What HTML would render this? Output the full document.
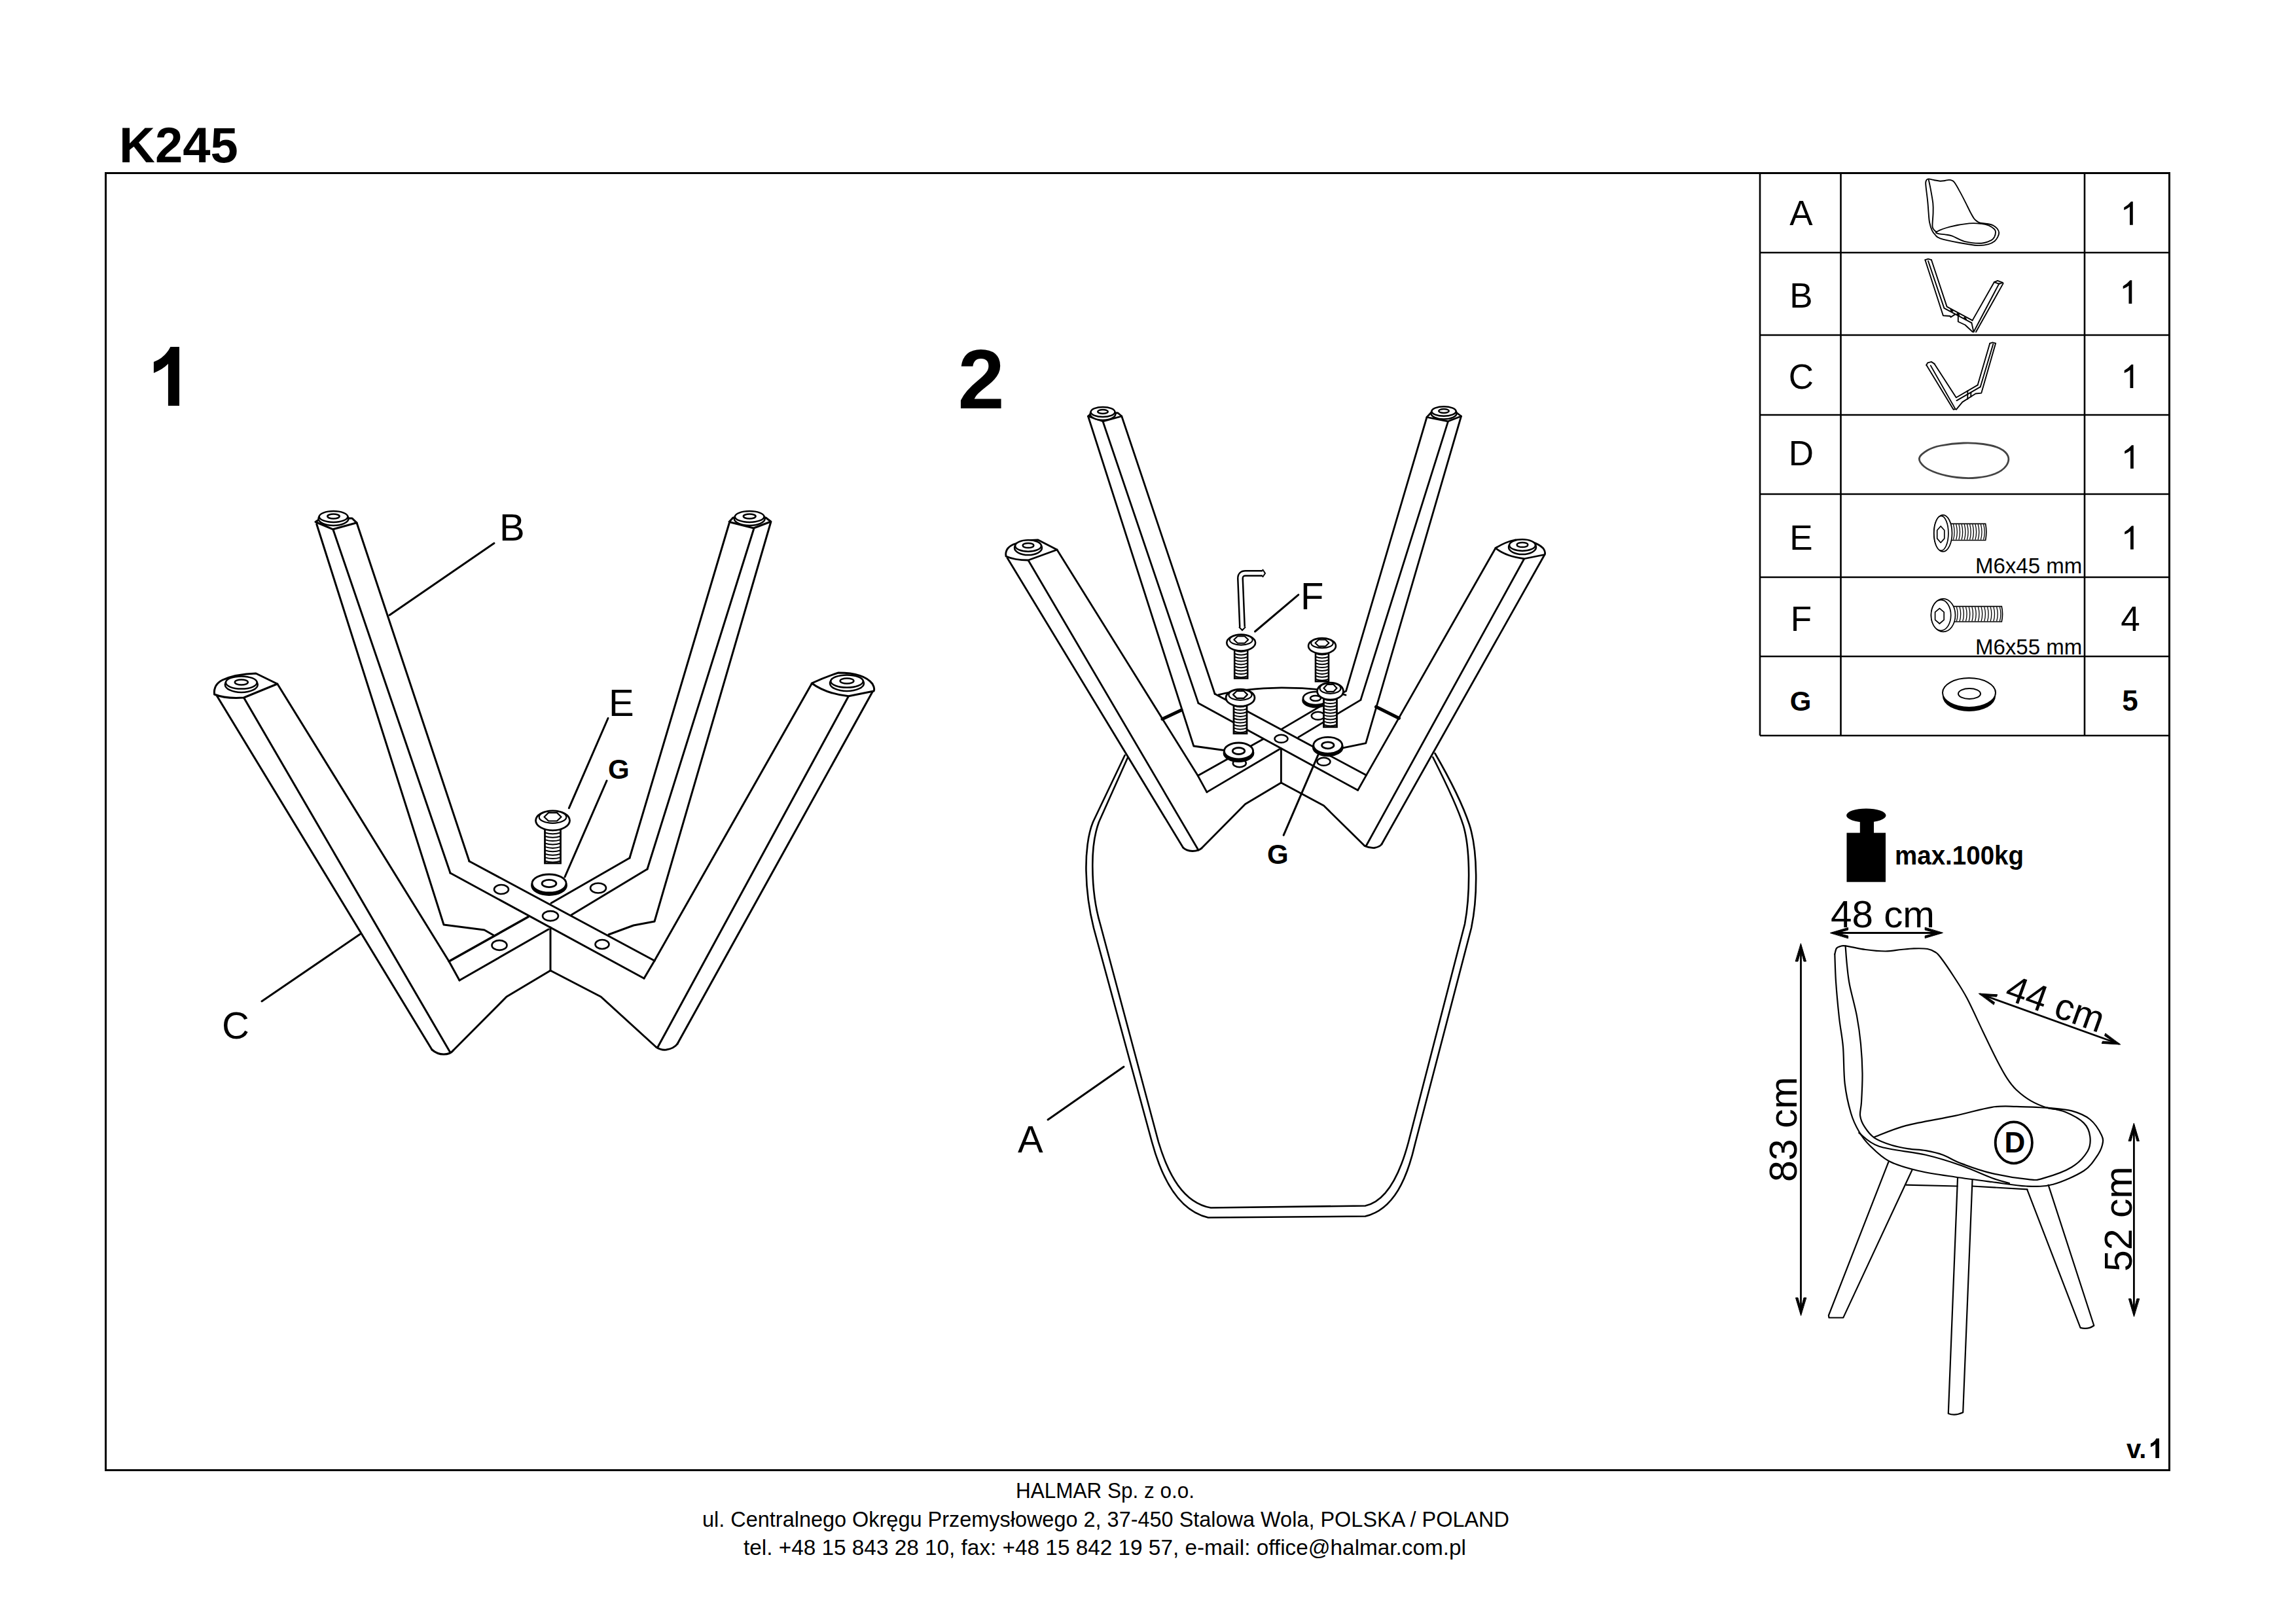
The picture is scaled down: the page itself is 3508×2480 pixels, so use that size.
<!DOCTYPE html><html><head><meta charset="utf-8"><style>html,body{margin:0;padding:0;background:#fff;} svg{display:block;}</style></head><body>
<svg width="3508" height="2480" viewBox="0 0 3508 2480">
<rect x="0" y="0" width="3508" height="2480" fill="#fff"/>
<text x="182" y="248" font-family="'Liberation Sans', sans-serif" font-size="76" font-weight="bold" text-anchor="start" >K245</text>
<rect x="161.5" y="264.5" width="3153" height="1982" fill="none" stroke="#000" stroke-width="3"/>
<text x="3249" y="2228" font-family="'Liberation Sans', sans-serif" font-size="40" font-weight="bold" text-anchor="start" >v.</text>
<path d="M3294.46,2198.00 L3299.00,2198.00 L3299.00,2228.00 L3293.29,2228.00 L3293.29,2206.58 Q3291.22,2209.08 3285.95,2211.31 L3285.95,2205.71 Q3291.78,2203.49 3294.46,2198.00 Z" fill="#000"/>
<line x1="2689" y1="264.5" x2="2689" y2="1124" stroke="#000" stroke-width="2.6"/>
<line x1="2812.5" y1="264.5" x2="2812.5" y2="1124" stroke="#000" stroke-width="2.6"/>
<line x1="3185" y1="264.5" x2="3185" y2="1124" stroke="#000" stroke-width="2.6"/>
<line x1="2689" y1="386" x2="3314.5" y2="386" stroke="#000" stroke-width="2.6"/>
<line x1="2689" y1="512" x2="3314.5" y2="512" stroke="#000" stroke-width="2.6"/>
<line x1="2689" y1="634" x2="3314.5" y2="634" stroke="#000" stroke-width="2.6"/>
<line x1="2689" y1="755" x2="3314.5" y2="755" stroke="#000" stroke-width="2.6"/>
<line x1="2689" y1="882" x2="3314.5" y2="882" stroke="#000" stroke-width="2.6"/>
<line x1="2689" y1="1003" x2="3314.5" y2="1003" stroke="#000" stroke-width="2.6"/>
<line x1="2689" y1="1124" x2="3314.5" y2="1124" stroke="#000" stroke-width="2.6"/>
<text x="2752" y="344" font-family="'Liberation Sans', sans-serif" font-size="53" font-weight="normal" text-anchor="middle" >A</text>
<text x="2752" y="470" font-family="'Liberation Sans', sans-serif" font-size="53" font-weight="normal" text-anchor="middle" >B</text>
<text x="2752" y="593.5" font-family="'Liberation Sans', sans-serif" font-size="53" font-weight="normal" text-anchor="middle" >C</text>
<text x="2752" y="711" font-family="'Liberation Sans', sans-serif" font-size="53" font-weight="normal" text-anchor="middle" >D</text>
<text x="2752" y="839.5" font-family="'Liberation Sans', sans-serif" font-size="53" font-weight="normal" text-anchor="middle" >E</text>
<text x="2752" y="964" font-family="'Liberation Sans', sans-serif" font-size="53" font-weight="normal" text-anchor="middle" >F</text>
<text x="2751" y="1085.5" font-family="'Liberation Sans', sans-serif" font-size="42" font-weight="bold" text-anchor="middle" >G</text>
<path d="M3256.0,307.9 L3258.8,307.9 L3258.8,343.8 L3254.0,343.8 L3254.0,316.1 Q3250.0,319.4 3245.2,320.9 L3245.2,317.0 Q3251.5,313.4 3256.0,307.9 Z" fill="#000"/>
<path d="M3254.5,428.2 L3257.3,428.2 L3257.3,464.1 L3252.5,464.1 L3252.5,436.4 Q3248.5,439.7 3243.7,441.2 L3243.7,437.3 Q3250.0,433.7 3254.5,428.2 Z" fill="#000"/>
<path d="M3256.5,557.0 L3259.3,557.0 L3259.3,592.9 L3254.5,592.9 L3254.5,565.2 Q3250.5,568.5 3245.7,570.0 L3245.7,566.1 Q3252.0,562.5 3256.5,557.0 Z" fill="#000"/>
<path d="M3257.0,680.2 L3259.8,680.2 L3259.8,716.1 L3255.0,716.1 L3255.0,688.4 Q3251.0,691.7 3246.2,693.2 L3246.2,689.3 Q3252.5,685.7 3257.0,680.2 Z" fill="#000"/>
<path d="M3257.0,803.6 L3259.8,803.6 L3259.8,839.5 L3255.0,839.5 L3255.0,811.8 Q3251.0,815.1 3246.2,816.6 L3246.2,812.7 Q3252.5,809.1 3257.0,803.6 Z" fill="#000"/>
<text x="3255" y="964" font-family="'Liberation Sans', sans-serif" font-size="53" font-weight="normal" text-anchor="middle" >4</text>
<text x="3254.5" y="1085.5" font-family="'Liberation Sans', sans-serif" font-size="44" font-weight="bold" text-anchor="middle" >5</text>
<text x="3018" y="876" font-family="'Liberation Sans', sans-serif" font-size="33" font-weight="normal" text-anchor="start" >M6x45 mm</text>
<text x="3018" y="999.5" font-family="'Liberation Sans', sans-serif" font-size="33" font-weight="normal" text-anchor="start" >M6x55 mm</text>
<path d="M260.4,530 L274,530 L274,619.9 L256.9,619.9 L256.9,555.7 Q250.7,563.2 234.9,569.9 L234.9,553.1 Q252.35,546.45 260.4,530 Z" fill="#000"/>
<path d="M330.0,1061.0 L660.0,1604.0" fill="none" stroke="#000" stroke-width="3" stroke-linejoin="round" stroke-linecap="round" />
<path d="M660,1604 Q668,1611 678,1611 Q688,1611 692.5,1605" fill="none" stroke="#000" stroke-width="3" stroke-linejoin="round" stroke-linecap="round" />
<path d="M372.5,1066.0 L687.5,1607.5" fill="none" stroke="#000" stroke-width="3" stroke-linejoin="round" stroke-linecap="round" />
<path d="M423.8,1045.0 L686.0,1469.0 L702.0,1498.0" fill="none" stroke="#000" stroke-width="3" stroke-linejoin="round" stroke-linecap="round" />
<path d="M483.8,801.0 L678.0,1413.0 L740.0,1421.0 L754.0,1429.0" fill="none" stroke="#000" stroke-width="3" stroke-linejoin="round" stroke-linecap="round" />
<path d="M508.8,808.8 L688.0,1334.0" fill="none" stroke="#000" stroke-width="3" stroke-linejoin="round" stroke-linecap="round" />
<path d="M545.0,798.8 L717.0,1316.0" fill="none" stroke="#000" stroke-width="3" stroke-linejoin="round" stroke-linecap="round" />
<path d="M717.0,1316.0 L1000.0,1468.0" fill="none" stroke="#000" stroke-width="3" stroke-linejoin="round" stroke-linecap="round" />
<path d="M688.0,1334.0 L984.0,1495.0" fill="none" stroke="#000" stroke-width="3" stroke-linejoin="round" stroke-linecap="round" />
<path d="M1000.0,1468.0 L984.0,1495.0" fill="none" stroke="#000" stroke-width="3" stroke-linejoin="round" stroke-linecap="round" />
<path d="M962.0,1311.0 L842.0,1380.0" fill="none" stroke="#000" stroke-width="3" stroke-linejoin="round" stroke-linecap="round" />
<path d="M989.0,1328.0 L873.0,1398.0" fill="none" stroke="#000" stroke-width="3" stroke-linejoin="round" stroke-linecap="round" />
<path d="M807.0,1401.0 L686.0,1469.0" fill="none" stroke="#000" stroke-width="3.5" stroke-linejoin="round" stroke-linecap="round" />
<path d="M838.0,1420.0 L702.0,1498.0" fill="none" stroke="#000" stroke-width="3" stroke-linejoin="round" stroke-linecap="round" />
<path d="M841.0,1417.0 L841.0,1483.0" fill="none" stroke="#000" stroke-width="3" stroke-linejoin="round" stroke-linecap="round" />
<path d="M841.0,1483.0 L774.0,1523.0 L692.5,1605.0" fill="none" stroke="#000" stroke-width="3" stroke-linejoin="round" stroke-linecap="round" />
<path d="M841.0,1483.0 L918.0,1523.0 L1002.5,1600.0" fill="none" stroke="#000" stroke-width="3" stroke-linejoin="round" stroke-linecap="round" />
<path d="M1240.0,1045.0 L1000.0,1468.0" fill="none" stroke="#000" stroke-width="3" stroke-linejoin="round" stroke-linecap="round" />
<path d="M1296.5,1063.8 L1005.0,1600.0" fill="none" stroke="#000" stroke-width="3" stroke-linejoin="round" stroke-linecap="round" />
<path d="M1332.8,1057.5 L1035.0,1595.0" fill="none" stroke="#000" stroke-width="3" stroke-linejoin="round" stroke-linecap="round" />
<path d="M1002.5,1600 Q1010,1605 1018,1604 Q1030,1602 1035,1595" fill="none" stroke="#000" stroke-width="3" stroke-linejoin="round" stroke-linecap="round" />
<path d="M1114.0,800.0 L962.0,1311.0" fill="none" stroke="#000" stroke-width="3" stroke-linejoin="round" stroke-linecap="round" />
<path d="M1151.5,808.8 L989.0,1328.0" fill="none" stroke="#000" stroke-width="3" stroke-linejoin="round" stroke-linecap="round" />
<path d="M1177.8,797.5 L1000.0,1408.0 L968.0,1414.0 L930.0,1428.0" fill="none" stroke="#000" stroke-width="3" stroke-linejoin="round" stroke-linecap="round" />
<path d="M482.0,797.5 L508.8,808.8 L545.0,798.8 L538.0,792.0 L490.0,792.0 Z" fill="#fff" stroke="#000" stroke-width="3" stroke-linejoin="round" stroke-linecap="round" />
<ellipse cx="509.5" cy="792.5" rx="23.0" ry="10.5" fill="#fff" stroke="#000" stroke-width="2.5" />
<ellipse cx="509.5" cy="789.5" rx="21.8" ry="8.4" fill="#fff" stroke="#000" stroke-width="2.5" />
<ellipse cx="509.5" cy="789.0" rx="9.2" ry="3.5" fill="#fff" stroke="#000" stroke-width="2.5" />
<path d="M1114.0,797.5 L1151.5,807.0 L1177.8,797.0 L1170.0,791.0 L1120.0,791.0 Z" fill="#fff" stroke="#000" stroke-width="3" stroke-linejoin="round" stroke-linecap="round" />
<ellipse cx="1145.2" cy="792.5" rx="23.5" ry="10.5" fill="#fff" stroke="#000" stroke-width="2.5" />
<ellipse cx="1145.2" cy="789.5" rx="22.3" ry="8.4" fill="#fff" stroke="#000" stroke-width="2.5" />
<ellipse cx="1145.2" cy="789.0" rx="9.4" ry="3.5" fill="#fff" stroke="#000" stroke-width="2.5" />
<path d="M327.5,1061 Q326,1046 340,1039 Q360,1030 391,1029 L423.75,1045 L372.5,1066 Q345,1068 327.5,1061 Z" fill="#fff" stroke="#000" stroke-width="3" stroke-linejoin="round" stroke-linecap="round" />
<ellipse cx="368.8" cy="1046.0" rx="25.0" ry="12.0" fill="#fff" stroke="#000" stroke-width="2.5" />
<ellipse cx="368.8" cy="1043.0" rx="23.8" ry="9.6" fill="#fff" stroke="#000" stroke-width="2.5" />
<ellipse cx="368.8" cy="1042.5" rx="10.0" ry="4.0" fill="#fff" stroke="#000" stroke-width="2.5" />
<path d="M1240.25,1044 Q1262,1034 1281,1028 Q1320,1028 1333,1045 Q1337,1052 1335,1056 L1296.5,1063.75 Q1262,1060 1240.25,1044 Z" fill="#fff" stroke="#000" stroke-width="3" stroke-linejoin="round" stroke-linecap="round" />
<ellipse cx="1294.0" cy="1044.0" rx="26.0" ry="12.0" fill="#fff" stroke="#000" stroke-width="2.5" />
<ellipse cx="1294.0" cy="1041.0" rx="24.7" ry="9.6" fill="#fff" stroke="#000" stroke-width="2.5" />
<ellipse cx="1294.0" cy="1040.5" rx="10.4" ry="4.0" fill="#fff" stroke="#000" stroke-width="2.5" />
<ellipse cx="766.0" cy="1359.0" rx="11.0" ry="7.0" fill="#fff" stroke="#000" stroke-width="2.6" />
<ellipse cx="841.0" cy="1399.6" rx="12.0" ry="7.5" fill="#fff" stroke="#000" stroke-width="2.6" />
<ellipse cx="914.0" cy="1357.0" rx="12.0" ry="7.5" fill="#fff" stroke="#000" stroke-width="2.6" />
<ellipse cx="763.0" cy="1444.4" rx="11.5" ry="7.5" fill="#fff" stroke="#000" stroke-width="2.6" />
<ellipse cx="920.0" cy="1443.0" rx="10.5" ry="7.0" fill="#fff" stroke="#000" stroke-width="2.6" />
<rect x="832.5" y="1259.0" width="24.0" height="60.0" fill="#fff" stroke="#000" stroke-width="2.8"/>
<path d="M832.5,1261.5 Q844.5,1265.5 856.5,1261.5" fill="none" stroke="#000" stroke-width="2"/>
<path d="M832.5,1266.9 Q844.5,1270.9 856.5,1266.9" fill="none" stroke="#000" stroke-width="2"/>
<path d="M832.5,1272.3 Q844.5,1276.3 856.5,1272.3" fill="none" stroke="#000" stroke-width="2"/>
<path d="M832.5,1277.7 Q844.5,1281.7 856.5,1277.7" fill="none" stroke="#000" stroke-width="2"/>
<path d="M832.5,1283.1 Q844.5,1287.1 856.5,1283.1" fill="none" stroke="#000" stroke-width="2"/>
<path d="M832.5,1288.5 Q844.5,1292.5 856.5,1288.5" fill="none" stroke="#000" stroke-width="2"/>
<path d="M832.5,1293.9 Q844.5,1297.9 856.5,1293.9" fill="none" stroke="#000" stroke-width="2"/>
<path d="M832.5,1299.3 Q844.5,1303.3 856.5,1299.3" fill="none" stroke="#000" stroke-width="2"/>
<path d="M832.5,1304.7 Q844.5,1308.7 856.5,1304.7" fill="none" stroke="#000" stroke-width="2"/>
<path d="M832.5,1310.1 Q844.5,1314.1 856.5,1310.1" fill="none" stroke="#000" stroke-width="2"/>
<path d="M832.5,1315.5 Q844.5,1319.5 856.5,1315.5" fill="none" stroke="#000" stroke-width="2"/>
<ellipse cx="844.5" cy="1253.8" rx="26.0" ry="15.0" fill="#fff" stroke="#000" stroke-width="2.8" />
<ellipse cx="844.5" cy="1248.5" rx="20.8" ry="9.3" fill="#fff" stroke="#000" stroke-width="2.2399999999999998" />
<path d="M831.5,1248.2 L838.0,1241.9 L851.0,1241.9 L857.5,1248.2 L851.0,1254.5 L838.0,1254.5 Z" fill="#fff" stroke="#000" stroke-width="2.2399999999999998" stroke-linejoin="round" stroke-linecap="round" />
<ellipse cx="839.0" cy="1353.0" rx="26.0" ry="14.0" fill="#000" stroke="#000" stroke-width="3.8" />
<ellipse cx="839.0" cy="1350.0" rx="26.0" ry="14.0" fill="#fff" stroke="#000" stroke-width="2.8" />
<ellipse cx="839.0" cy="1350.0" rx="10.9" ry="5.6" fill="#fff" stroke="#000" stroke-width="2.8" />
<path d="M595.0,940.0 L755.0,830.0" fill="none" stroke="#000" stroke-width="3" stroke-linejoin="round" stroke-linecap="round" />
<path d="M929.0,1097.5 L869.3,1234.8" fill="none" stroke="#000" stroke-width="3" stroke-linejoin="round" stroke-linecap="round" />
<path d="M927.0,1193.0 L863.0,1340.0" fill="none" stroke="#000" stroke-width="3" stroke-linejoin="round" stroke-linecap="round" />
<path d="M550.0,1427.5 L400.0,1530.0" fill="none" stroke="#000" stroke-width="3" stroke-linejoin="round" stroke-linecap="round" />
<text x="763" y="826" font-family="'Liberation Sans', sans-serif" font-size="58" font-weight="normal" text-anchor="start" >B</text>
<text x="930" y="1094" font-family="'Liberation Sans', sans-serif" font-size="58" font-weight="normal" text-anchor="start" >E</text>
<text x="929" y="1190" font-family="'Liberation Sans', sans-serif" font-size="42" font-weight="bold" text-anchor="start" >G</text>
<text x="339" y="1587" font-family="'Liberation Sans', sans-serif" font-size="58" font-weight="normal" text-anchor="start" >C</text>
<text x="1463.5" y="624" font-family="'Liberation Sans', sans-serif" font-size="128" font-weight="bold" text-anchor="start" >2</text>
<path d="M1718.6,1154 L1670,1256 C1662,1275 1659,1305 1659.5,1331 C1660,1360 1664,1390 1671,1418 L1760,1745 C1775,1800 1800,1850 1846,1860.5 L2086,1858.5 C2130,1848 2150,1800 2162,1748 L2248,1418 C2258,1370 2258,1300 2245,1260 C2235,1230 2215,1190 2192.4,1151" fill="none" stroke="#000" stroke-width="2.6" stroke-linejoin="round" stroke-linecap="round" />
<path d="M1723.3,1157 L1679,1256 C1672,1275 1669,1300 1669.3,1325 C1669.5,1355 1673,1385 1681,1412 L1770,1745 C1785,1795 1808,1838 1850,1845.5 L2086,1842.5 C2120,1835 2140,1790 2152,1745 L2238,1412 C2246,1370 2247,1300 2236,1262 C2226,1230 2206,1190 2189.3,1157" fill="none" stroke="#000" stroke-width="2.6" stroke-linejoin="round" stroke-linecap="round" />
<path d="M1776,1098.75 L1805,1085" fill="none" stroke="#000" stroke-width="5" stroke-linejoin="round" stroke-linecap="round" />
<path d="M2102.5,1080 L2137.5,1097.5" fill="none" stroke="#000" stroke-width="5" stroke-linejoin="round" stroke-linecap="round" />
<path d="M1861.9,1061.7 Q1900,1052 1958.2,1050.9 Q2020,1051 2056,1062" fill="none" stroke="#000" stroke-width="2.8" stroke-linejoin="round" stroke-linecap="round" />
<path d="M1601.0,1711.0 L1717.0,1630.0" fill="none" stroke="#000" stroke-width="3" stroke-linejoin="round" stroke-linecap="round" />
<text x="1555" y="1761" font-family="'Liberation Sans', sans-serif" font-size="58" font-weight="normal" text-anchor="start" >A</text>
<path d="M1539.0,852.5 L1807.5,1295.0" fill="none" stroke="#000" stroke-width="2.8" stroke-linejoin="round" stroke-linecap="round" />
<path d="M1807.5,1295 Q1812,1300 1822,1300.5 Q1832,1300 1836,1296" fill="none" stroke="#000" stroke-width="2.8" stroke-linejoin="round" stroke-linecap="round" />
<path d="M1571.0,856.0 L1831.0,1299.0" fill="none" stroke="#000" stroke-width="2.8" stroke-linejoin="round" stroke-linecap="round" />
<path d="M1615.0,840.0 L1830.2,1185.3 L1843.9,1210.4" fill="none" stroke="#000" stroke-width="2.8" stroke-linejoin="round" stroke-linecap="round" />
<path d="M1662.5,636.0 L1823.8,1140.0 L1870.5,1146.5" fill="none" stroke="#000" stroke-width="2.8" stroke-linejoin="round" stroke-linecap="round" />
<path d="M1685.0,643.8 L1831.0,1074.6" fill="none" stroke="#000" stroke-width="2.8" stroke-linejoin="round" stroke-linecap="round" />
<path d="M1713.8,636.0 L1856.1,1060.2" fill="none" stroke="#000" stroke-width="2.8" stroke-linejoin="round" stroke-linecap="round" />
<path d="M2180.0,637.5 L2056.6,1055.9" fill="none" stroke="#000" stroke-width="2.8" stroke-linejoin="round" stroke-linecap="round" />
<path d="M2212.5,643.8 L2078.9,1069.6" fill="none" stroke="#000" stroke-width="2.8" stroke-linejoin="round" stroke-linecap="round" />
<path d="M2232.5,636.0 L2086.8,1135.7 L2051.6,1142.9" fill="none" stroke="#000" stroke-width="2.8" stroke-linejoin="round" stroke-linecap="round" />
<path d="M2285.0,837.5 L2087.5,1184.6 L2074.6,1207.5" fill="none" stroke="#000" stroke-width="2.8" stroke-linejoin="round" stroke-linecap="round" />
<path d="M2328.8,853.8 L2087.0,1293.0" fill="none" stroke="#000" stroke-width="2.8" stroke-linejoin="round" stroke-linecap="round" />
<path d="M2360.0,847.5 L2111.0,1290.0" fill="none" stroke="#000" stroke-width="2.8" stroke-linejoin="round" stroke-linecap="round" />
<path d="M2085,1292.5 Q2092,1296 2100,1295.5 Q2108,1294 2111,1290" fill="none" stroke="#000" stroke-width="2.8" stroke-linejoin="round" stroke-linecap="round" />
<path d="M1856.1,1060.2 L2087.5,1184.6" fill="none" stroke="#000" stroke-width="2.8" stroke-linejoin="round" stroke-linecap="round" />
<path d="M1831.0,1074.6 L2074.6,1207.5" fill="none" stroke="#000" stroke-width="2.8" stroke-linejoin="round" stroke-linecap="round" />
<path d="M2056.6,1055.9 L1958.1,1114.1" fill="none" stroke="#000" stroke-width="2.8" stroke-linejoin="round" stroke-linecap="round" />
<path d="M2078.9,1069.6 L1984.0,1126.4" fill="none" stroke="#000" stroke-width="2.8" stroke-linejoin="round" stroke-linecap="round" />
<path d="M1930.1,1129.2 L1830.2,1185.3" fill="none" stroke="#000" stroke-width="2.8" stroke-linejoin="round" stroke-linecap="round" />
<path d="M1954.6,1145.0 L1843.9,1210.4" fill="none" stroke="#000" stroke-width="2.8" stroke-linejoin="round" stroke-linecap="round" />
<path d="M1957.4,1143.6 L1957.4,1196.0" fill="none" stroke="#000" stroke-width="2.8" stroke-linejoin="round" stroke-linecap="round" />
<path d="M1957.4,1196.0 L1902.5,1228.8 L1836.0,1296.0" fill="none" stroke="#000" stroke-width="2.8" stroke-linejoin="round" stroke-linecap="round" />
<path d="M1957.4,1196.0 L2022.5,1231.0 L2085.0,1292.5" fill="none" stroke="#000" stroke-width="2.8" stroke-linejoin="round" stroke-linecap="round" />
<path d="M1662.5,636.0 L1685.0,643.8 L1713.8,636.0 L1708.0,631.0 L1668.0,631.0 Z" fill="#fff" stroke="#000" stroke-width="2.8" stroke-linejoin="round" stroke-linecap="round" />
<ellipse cx="1685.0" cy="632.5" rx="19.4" ry="9.5" fill="#fff" stroke="#000" stroke-width="2.5" />
<ellipse cx="1685.0" cy="629.5" rx="18.4" ry="7.6" fill="#fff" stroke="#000" stroke-width="2.5" />
<ellipse cx="1685.0" cy="629.0" rx="7.8" ry="3.1" fill="#fff" stroke="#000" stroke-width="2.5" />
<path d="M2180.0,637.5 L2212.5,643.8 L2232.5,636.0 L2226.0,631.0 L2186.0,631.0 Z" fill="#fff" stroke="#000" stroke-width="2.8" stroke-linejoin="round" stroke-linecap="round" />
<ellipse cx="2206.0" cy="631.5" rx="19.6" ry="9.0" fill="#fff" stroke="#000" stroke-width="2.5" />
<ellipse cx="2206.0" cy="628.5" rx="18.6" ry="7.2" fill="#fff" stroke="#000" stroke-width="2.5" />
<ellipse cx="2206.0" cy="628.0" rx="7.8" ry="3.0" fill="#fff" stroke="#000" stroke-width="2.5" />
<path d="M1537,850 Q1535,838 1548,832 Q1565,825 1586,825 L1615,840 L1571,856 Q1550,856 1537,850 Z" fill="#fff" stroke="#000" stroke-width="2.8" stroke-linejoin="round" stroke-linecap="round" />
<ellipse cx="1571.0" cy="837.0" rx="21.0" ry="11.0" fill="#fff" stroke="#000" stroke-width="2.5" />
<ellipse cx="1571.0" cy="834.0" rx="19.9" ry="8.8" fill="#fff" stroke="#000" stroke-width="2.5" />
<ellipse cx="1571.0" cy="833.5" rx="8.4" ry="3.6" fill="#fff" stroke="#000" stroke-width="2.5" />
<path d="M2285,837.5 Q2300,828 2315,825 Q2345,825 2358,838 Q2362,844 2360,847.5 L2328.75,853.75 Q2300,850 2285,837.5 Z" fill="#fff" stroke="#000" stroke-width="2.8" stroke-linejoin="round" stroke-linecap="round" />
<ellipse cx="2326.0" cy="836.0" rx="21.0" ry="11.0" fill="#fff" stroke="#000" stroke-width="2.5" />
<ellipse cx="2326.0" cy="833.0" rx="19.9" ry="8.8" fill="#fff" stroke="#000" stroke-width="2.5" />
<ellipse cx="2326.0" cy="832.5" rx="8.4" ry="3.6" fill="#fff" stroke="#000" stroke-width="2.5" />
<ellipse cx="1957.5" cy="1128.8" rx="10.0" ry="6.0" fill="#fff" stroke="#000" stroke-width="2.5" />
<ellipse cx="1893.8" cy="1166.2" rx="10.0" ry="6.0" fill="#fff" stroke="#000" stroke-width="2.5" />
<ellipse cx="2022.5" cy="1163.8" rx="10.0" ry="6.0" fill="#fff" stroke="#000" stroke-width="2.5" />
<ellipse cx="2013.8" cy="1093.8" rx="10.0" ry="6.0" fill="#fff" stroke="#000" stroke-width="2.5" />
<ellipse cx="2010.0" cy="1070.0" rx="19.0" ry="10.0" fill="#000" stroke="#000" stroke-width="3.6" />
<ellipse cx="2010.0" cy="1067.0" rx="19.0" ry="10.0" fill="#fff" stroke="#000" stroke-width="2.6" />
<ellipse cx="2010.0" cy="1067.0" rx="8.0" ry="4.0" fill="#fff" stroke="#000" stroke-width="2.6" />
<ellipse cx="1892.5" cy="1150.5" rx="22.0" ry="12.5" fill="#000" stroke="#000" stroke-width="3.8" />
<ellipse cx="1892.5" cy="1147.5" rx="22.0" ry="12.5" fill="#fff" stroke="#000" stroke-width="2.8" />
<ellipse cx="1892.5" cy="1147.5" rx="9.2" ry="5.0" fill="#fff" stroke="#000" stroke-width="2.8" />
<ellipse cx="2028.8" cy="1141.8" rx="22.0" ry="12.5" fill="#000" stroke="#000" stroke-width="3.8" />
<ellipse cx="2028.8" cy="1138.8" rx="22.0" ry="12.5" fill="#fff" stroke="#000" stroke-width="2.8" />
<ellipse cx="2028.8" cy="1138.8" rx="9.2" ry="5.0" fill="#fff" stroke="#000" stroke-width="2.8" />
<rect x="1886.2" y="986.5" width="20.0" height="50.0" fill="#fff" stroke="#000" stroke-width="2.6"/>
<path d="M1886.2,989.0 Q1896.2,993.0 1906.2,989.0" fill="none" stroke="#000" stroke-width="2"/>
<path d="M1886.2,993.9 Q1896.2,997.9 1906.2,993.9" fill="none" stroke="#000" stroke-width="2"/>
<path d="M1886.2,998.8 Q1896.2,1002.8 1906.2,998.8" fill="none" stroke="#000" stroke-width="2"/>
<path d="M1886.2,1003.7 Q1896.2,1007.7 1906.2,1003.7" fill="none" stroke="#000" stroke-width="2"/>
<path d="M1886.2,1008.6 Q1896.2,1012.6 1906.2,1008.6" fill="none" stroke="#000" stroke-width="2"/>
<path d="M1886.2,1013.4 Q1896.2,1017.4 1906.2,1013.4" fill="none" stroke="#000" stroke-width="2"/>
<path d="M1886.2,1018.3 Q1896.2,1022.3 1906.2,1018.3" fill="none" stroke="#000" stroke-width="2"/>
<path d="M1886.2,1023.2 Q1896.2,1027.2 1906.2,1023.2" fill="none" stroke="#000" stroke-width="2"/>
<path d="M1886.2,1028.1 Q1896.2,1032.1 1906.2,1028.1" fill="none" stroke="#000" stroke-width="2"/>
<path d="M1886.2,1033.0 Q1896.2,1037.0 1906.2,1033.0" fill="none" stroke="#000" stroke-width="2"/>
<ellipse cx="1896.2" cy="982.1" rx="21.9" ry="12.5" fill="#fff" stroke="#000" stroke-width="2.6" />
<ellipse cx="1896.2" cy="977.8" rx="17.5" ry="7.8" fill="#fff" stroke="#000" stroke-width="2.08" />
<path d="M1885.3,977.5 L1890.8,972.2 L1901.7,972.2 L1907.2,977.5 L1901.7,982.8 L1890.8,982.8 Z" fill="#fff" stroke="#000" stroke-width="2.08" stroke-linejoin="round" stroke-linecap="round" />
<rect x="2010.0" y="991.2" width="20.0" height="50.0" fill="#fff" stroke="#000" stroke-width="2.6"/>
<path d="M2010.0,993.7 Q2020.0,997.7 2030.0,993.7" fill="none" stroke="#000" stroke-width="2"/>
<path d="M2010.0,998.6 Q2020.0,1002.6 2030.0,998.6" fill="none" stroke="#000" stroke-width="2"/>
<path d="M2010.0,1003.5 Q2020.0,1007.5 2030.0,1003.5" fill="none" stroke="#000" stroke-width="2"/>
<path d="M2010.0,1008.4 Q2020.0,1012.4 2030.0,1008.4" fill="none" stroke="#000" stroke-width="2"/>
<path d="M2010.0,1013.3 Q2020.0,1017.3 2030.0,1013.3" fill="none" stroke="#000" stroke-width="2"/>
<path d="M2010.0,1018.1 Q2020.0,1022.1 2030.0,1018.1" fill="none" stroke="#000" stroke-width="2"/>
<path d="M2010.0,1023.0 Q2020.0,1027.0 2030.0,1023.0" fill="none" stroke="#000" stroke-width="2"/>
<path d="M2010.0,1027.9 Q2020.0,1031.9 2030.0,1027.9" fill="none" stroke="#000" stroke-width="2"/>
<path d="M2010.0,1032.8 Q2020.0,1036.8 2030.0,1032.8" fill="none" stroke="#000" stroke-width="2"/>
<path d="M2010.0,1037.7 Q2020.0,1041.7 2030.0,1037.7" fill="none" stroke="#000" stroke-width="2"/>
<ellipse cx="2020.0" cy="987.0" rx="21.0" ry="12.0" fill="#fff" stroke="#000" stroke-width="2.6" />
<ellipse cx="2020.0" cy="982.8" rx="16.8" ry="7.4" fill="#fff" stroke="#000" stroke-width="2.08" />
<path d="M2009.5,982.6 L2014.8,977.5 L2025.2,977.5 L2030.5,982.6 L2025.2,987.6 L2014.8,987.6 Z" fill="#fff" stroke="#000" stroke-width="2.08" stroke-linejoin="round" stroke-linecap="round" />
<rect x="1885.0" y="1070.8" width="20.0" height="50.0" fill="#fff" stroke="#000" stroke-width="2.8"/>
<path d="M1885.0,1073.3 Q1895.0,1077.3 1905.0,1073.3" fill="none" stroke="#000" stroke-width="2"/>
<path d="M1885.0,1078.2 Q1895.0,1082.2 1905.0,1078.2" fill="none" stroke="#000" stroke-width="2"/>
<path d="M1885.0,1083.1 Q1895.0,1087.1 1905.0,1083.1" fill="none" stroke="#000" stroke-width="2"/>
<path d="M1885.0,1088.0 Q1895.0,1092.0 1905.0,1088.0" fill="none" stroke="#000" stroke-width="2"/>
<path d="M1885.0,1092.9 Q1895.0,1096.9 1905.0,1092.9" fill="none" stroke="#000" stroke-width="2"/>
<path d="M1885.0,1097.7 Q1895.0,1101.7 1905.0,1097.7" fill="none" stroke="#000" stroke-width="2"/>
<path d="M1885.0,1102.6 Q1895.0,1106.6 1905.0,1102.6" fill="none" stroke="#000" stroke-width="2"/>
<path d="M1885.0,1107.5 Q1895.0,1111.5 1905.0,1107.5" fill="none" stroke="#000" stroke-width="2"/>
<path d="M1885.0,1112.4 Q1895.0,1116.4 1905.0,1112.4" fill="none" stroke="#000" stroke-width="2"/>
<path d="M1885.0,1117.3 Q1895.0,1121.3 1905.0,1117.3" fill="none" stroke="#000" stroke-width="2"/>
<ellipse cx="1895.0" cy="1066.2" rx="22.0" ry="13.0" fill="#fff" stroke="#000" stroke-width="2.8" />
<ellipse cx="1895.0" cy="1061.7" rx="17.6" ry="8.1" fill="#fff" stroke="#000" stroke-width="2.2399999999999998" />
<path d="M1884.0,1061.4 L1889.5,1056.0 L1900.5,1056.0 L1906.0,1061.4 L1900.5,1066.9 L1889.5,1066.9 Z" fill="#fff" stroke="#000" stroke-width="2.2399999999999998" stroke-linejoin="round" stroke-linecap="round" />
<rect x="2022.5" y="1060.8" width="20.0" height="50.0" fill="#fff" stroke="#000" stroke-width="2.8"/>
<path d="M2022.5,1063.3 Q2032.5,1067.3 2042.5,1063.3" fill="none" stroke="#000" stroke-width="2"/>
<path d="M2022.5,1068.2 Q2032.5,1072.2 2042.5,1068.2" fill="none" stroke="#000" stroke-width="2"/>
<path d="M2022.5,1073.1 Q2032.5,1077.1 2042.5,1073.1" fill="none" stroke="#000" stroke-width="2"/>
<path d="M2022.5,1078.0 Q2032.5,1082.0 2042.5,1078.0" fill="none" stroke="#000" stroke-width="2"/>
<path d="M2022.5,1082.9 Q2032.5,1086.9 2042.5,1082.9" fill="none" stroke="#000" stroke-width="2"/>
<path d="M2022.5,1087.7 Q2032.5,1091.7 2042.5,1087.7" fill="none" stroke="#000" stroke-width="2"/>
<path d="M2022.5,1092.6 Q2032.5,1096.6 2042.5,1092.6" fill="none" stroke="#000" stroke-width="2"/>
<path d="M2022.5,1097.5 Q2032.5,1101.5 2042.5,1097.5" fill="none" stroke="#000" stroke-width="2"/>
<path d="M2022.5,1102.4 Q2032.5,1106.4 2042.5,1102.4" fill="none" stroke="#000" stroke-width="2"/>
<path d="M2022.5,1107.3 Q2032.5,1111.3 2042.5,1107.3" fill="none" stroke="#000" stroke-width="2"/>
<ellipse cx="2032.5" cy="1056.2" rx="20.0" ry="13.0" fill="#fff" stroke="#000" stroke-width="2.8" />
<ellipse cx="2032.5" cy="1051.7" rx="16.0" ry="8.1" fill="#fff" stroke="#000" stroke-width="2.2399999999999998" />
<path d="M2022.5,1051.4 L2027.5,1046.0 L2037.5,1046.0 L2042.5,1051.4 L2037.5,1056.9 L2027.5,1056.9 Z" fill="#fff" stroke="#000" stroke-width="2.2399999999999998" stroke-linejoin="round" stroke-linecap="round" />
<path d="M1898,958 L1895,884 Q1895,876 1903,876 L1929,876" fill="none" stroke="#000" stroke-width="10"/>
<path d="M1898,958 L1895,884 Q1895,876 1903,876 L1929,876" fill="none" stroke="#fff" stroke-width="5"/>
<path d="M1893,958 L1898,963 L1903,958 M1929,870 L1933,876 L1929,882" fill="none" stroke="#000" stroke-width="2"/>
<path d="M1917.5,965.0 L1983.8,908.8" fill="none" stroke="#000" stroke-width="3" stroke-linejoin="round" stroke-linecap="round" />
<path d="M1961.2,1276.2 L2013.8,1153.8" fill="none" stroke="#000" stroke-width="3" stroke-linejoin="round" stroke-linecap="round" />
<text x="1987" y="931" font-family="'Liberation Sans', sans-serif" font-size="58" font-weight="normal" text-anchor="start" >F</text>
<text x="1936" y="1320" font-family="'Liberation Sans', sans-serif" font-size="42" font-weight="bold" text-anchor="start" >G</text>
<ellipse cx="2851.3" cy="1246" rx="30.2" ry="10.6" fill="#000"/>
<rect x="2841.8" y="1252" width="21.2" height="22" fill="#000"/>
<rect x="2821.5" y="1272.6" width="59.5" height="75.1" fill="#000"/>
<text x="2895" y="1320.6" font-family="'Liberation Sans', sans-serif" font-size="40" font-weight="bold" text-anchor="start" textLength="197" lengthAdjust="spacingAndGlyphs" >max.100kg</text>
<text x="2797" y="1417" font-family="'Liberation Sans', sans-serif" font-size="57" font-weight="normal" text-anchor="start" textLength="159" lengthAdjust="spacingAndGlyphs" >48 cm</text>
<path d="M2800.0,1425.5 L2965.0,1425.5" fill="none" stroke="#000" stroke-width="2.8" stroke-linejoin="round" stroke-linecap="round" />
<path d="M2796.6,1425.5 L2823.6,1417.5 L2823.6,1421.0 L2811.4,1424.2 L2811.4,1426.8 L2823.6,1430.0 L2823.6,1433.5 Z" fill="#000" stroke="#000" stroke-width="1" stroke-linejoin="round" stroke-linecap="round" />
<path d="M2968.2,1425.5 L2941.2,1433.5 L2941.2,1430.0 L2953.3,1426.8 L2953.3,1424.2 L2941.2,1421.0 L2941.2,1417.5 Z" fill="#000" stroke="#000" stroke-width="1" stroke-linejoin="round" stroke-linecap="round" />
<path d="M2751.5,1446.0 L2751.5,2006.0" fill="none" stroke="#000" stroke-width="2.8" stroke-linejoin="round" stroke-linecap="round" />
<path d="M2751.5,1442.0 L2759.5,1469.0 L2756.0,1469.0 L2752.8,1456.8 L2750.2,1456.8 L2747.0,1469.0 L2743.5,1469.0 Z" fill="#000" stroke="#000" stroke-width="1" stroke-linejoin="round" stroke-linecap="round" />
<path d="M2751.5,2010.0 L2743.5,1983.0 L2747.0,1983.0 L2750.2,1995.2 L2752.8,1995.2 L2756.0,1983.0 L2759.5,1983.0 Z" fill="#000" stroke="#000" stroke-width="1" stroke-linejoin="round" stroke-linecap="round" />
<text transform="translate(2744.5,1806) rotate(-90)" font-family="Liberation Sans, sans-serif" font-size="59">83 cm</text>
<path d="M3260.4,1720.0 L3260.4,2008.0" fill="none" stroke="#000" stroke-width="2.8" stroke-linejoin="round" stroke-linecap="round" />
<path d="M3260.4,1716.6 L3268.4,1743.6 L3264.9,1743.6 L3261.7,1731.4 L3259.1,1731.4 L3255.9,1743.6 L3252.4,1743.6 Z" fill="#000" stroke="#000" stroke-width="1" stroke-linejoin="round" stroke-linecap="round" />
<path d="M3260.4,2011.6 L3252.4,1984.6 L3255.9,1984.6 L3259.1,1996.8 L3261.7,1996.8 L3264.9,1984.6 L3268.4,1984.6 Z" fill="#000" stroke="#000" stroke-width="1" stroke-linejoin="round" stroke-linecap="round" />
<text transform="translate(3256.5,1943) rotate(-90)" font-family="Liberation Sans, sans-serif" font-size="59">52 cm</text>
<path d="M3026.0,1519.0 L3237.0,1595.0" fill="none" stroke="#000" stroke-width="2.8" stroke-linejoin="round" stroke-linecap="round" />
<path d="M3023.6,1518.2 L3051.7,1519.8 L3050.5,1523.1 L3038.0,1522.0 L3037.1,1524.5 L3047.5,1531.6 L3046.3,1534.9 Z" fill="#000" stroke="#000" stroke-width="1" stroke-linejoin="round" stroke-linecap="round" />
<path d="M3239.4,1596.0 L3211.3,1594.4 L3212.5,1591.1 L3225.0,1592.2 L3225.9,1589.7 L3215.5,1582.6 L3216.7,1579.3 Z" fill="#000" stroke="#000" stroke-width="1" stroke-linejoin="round" stroke-linecap="round" />
<text transform="translate(3061,1525.7) rotate(19.83)" font-family="Liberation Sans, sans-serif" font-size="57">44 cm</text>
<path d="M2803.3,1458.0 C2803.8,1456.5 2804.6,1451.0 2806.0,1449.0 C2807.4,1447.0 2809.7,1446.6 2812.0,1446.0 C2814.3,1445.4 2813.3,1444.5 2819.6,1445.3 C2825.9,1446.1 2839.8,1449.6 2850.0,1451.0 C2860.2,1452.4 2871.4,1453.5 2880.6,1453.5 C2889.8,1453.5 2897.8,1451.7 2905.0,1451.0 C2912.2,1450.3 2917.3,1449.6 2924.0,1449.4 C2930.7,1449.2 2939.5,1449.1 2945.0,1450.0 C2950.5,1450.9 2953.7,1452.8 2957.0,1455.0 C2960.3,1457.2 2960.3,1456.8 2965.0,1463.0 C2969.7,1469.2 2978.3,1481.6 2985.0,1492.0 C2991.7,1502.4 2997.8,1511.1 3005.3,1525.3 C3012.8,1539.5 3022.4,1561.2 3030.0,1577.0 C3037.6,1592.8 3044.9,1608.2 3051.0,1620.0 C3057.1,1631.8 3061.5,1640.0 3066.5,1647.6 C3071.5,1655.2 3074.8,1659.7 3080.9,1665.5 C3087.1,1671.3 3095.6,1677.9 3103.4,1682.4 C3111.2,1686.9 3120.5,1690.5 3127.7,1692.7 C3134.9,1694.9 3143.3,1695.0 3146.4,1695.5" fill="none" stroke="#000" stroke-width="2.2" stroke-linejoin="round" stroke-linecap="round" />
<path d="M2803.3,1458.0 C2803.6,1465.0 2803.9,1483.8 2805.0,1500.0 C2806.1,1516.2 2808.2,1538.3 2810.0,1555.0 C2811.8,1571.7 2814.6,1583.2 2816.0,1600.0 C2817.4,1616.8 2816.7,1639.2 2818.7,1656.0 C2820.7,1672.8 2824.4,1688.8 2828.0,1701.0 C2831.6,1713.2 2835.6,1720.9 2840.3,1729.0 C2845.0,1737.1 2848.6,1742.3 2856.2,1749.8 C2863.8,1757.3 2873.6,1767.7 2886.1,1774.2 C2898.6,1780.7 2914.1,1785.0 2931.0,1789.0 C2947.9,1793.0 2968.6,1795.7 2987.3,1798.5 C3006.0,1801.3 3025.3,1803.7 3043.4,1806.0 C3061.5,1808.3 3080.3,1811.9 3095.9,1812.5 C3111.5,1813.1 3122.3,1813.6 3137.0,1809.7 C3151.7,1805.8 3172.9,1796.0 3183.9,1789.0 C3194.9,1782.0 3198.3,1774.5 3203.0,1768.0 C3207.7,1761.5 3210.7,1755.3 3212.0,1749.8 C3213.3,1744.3 3214.1,1741.3 3211.0,1734.8 C3207.9,1728.2 3200.9,1716.7 3193.3,1710.5 C3185.7,1704.3 3176.1,1700.4 3165.2,1697.4 C3154.3,1694.4 3133.9,1693.5 3127.7,1692.7" fill="none" stroke="#000" stroke-width="2.2" stroke-linejoin="round" stroke-linecap="round" />
<path d="M2819.6,1445.3 C2820.0,1450.2 2820.9,1465.0 2822.0,1475.0 C2823.1,1485.0 2823.5,1492.1 2826.0,1505.0 C2828.5,1517.9 2834.2,1537.4 2837.0,1552.4 C2839.8,1567.4 2841.6,1580.4 2843.0,1595.0 C2844.4,1609.6 2845.3,1625.1 2845.5,1640.0 C2845.7,1654.9 2844.6,1673.5 2844.0,1684.3 C2843.4,1695.1 2841.3,1698.7 2842.1,1704.9 C2842.9,1711.1 2845.1,1716.1 2848.7,1721.7 C2852.3,1727.3 2856.8,1733.9 2863.7,1738.6 C2870.6,1743.3 2881.2,1747.0 2889.9,1749.8 C2898.6,1752.6 2907.4,1754.0 2916.1,1755.4 C2924.8,1756.8 2933.6,1756.6 2942.3,1758.2 C2951.0,1759.8 2959.4,1761.5 2968.5,1764.8 C2977.6,1768.1 2984.1,1773.2 2996.6,1777.9 C3009.1,1782.6 3026.2,1788.9 3043.4,1792.9 C3060.6,1797.0 3086.5,1801.0 3099.6,1802.2 C3112.7,1803.5 3111.2,1803.5 3122.1,1800.4 C3133.0,1797.3 3154.0,1790.4 3165.2,1783.5 C3176.4,1776.6 3184.8,1767.0 3189.5,1759.2 C3194.2,1751.4 3194.2,1743.9 3193.3,1736.7 C3192.4,1729.5 3190.2,1722.3 3183.9,1716.1 C3177.7,1709.9 3165.2,1703.2 3155.8,1699.3 C3146.4,1695.4 3132.4,1693.8 3127.7,1692.7" fill="none" stroke="#000" stroke-width="2.2" stroke-linejoin="round" stroke-linecap="round" />
<path d="M2863.7,1737.6 C2871.8,1734.6 2891.8,1725.4 2912.4,1719.9 C2933.0,1714.5 2965.5,1709.6 2987.3,1704.9 C3009.1,1700.2 3027.8,1694.2 3043.4,1691.8 C3059.0,1689.4 3066.9,1690.6 3080.9,1690.8 C3094.9,1691.0 3119.9,1692.4 3127.7,1692.7" fill="none" stroke="#000" stroke-width="2.2" stroke-linejoin="round" stroke-linecap="round" />
<path d="M2840.3,1731.0 C2845.5,1734.5 2854.2,1746.1 2871.2,1751.7 C2888.2,1757.3 2921.4,1759.9 2942.3,1764.8 C2963.2,1769.7 2979.8,1775.1 2996.6,1781.0 C3013.4,1786.9 3031.2,1795.5 3043.4,1800.0 C3055.6,1804.5 3065.6,1806.7 3070.0,1808.0" fill="none" stroke="#000" stroke-width="2.2" stroke-linejoin="round" stroke-linecap="round" />
<path d="M2885.2,1776.0 L2793.9,2010.0 L2794.5,2013.5 L2816.3,2013.4 L2921.7,1787.3" fill="none" stroke="#000" stroke-width="2.2" stroke-linejoin="round" stroke-linecap="round" />
<path d="M2991,1800.4 L2976.8,2160 Q2987,2164 2999.2,2158.3 L3013.5,1803.2" fill="none" stroke="#000" stroke-width="2.2" stroke-linejoin="round" stroke-linecap="round" />
<path d="M3097.5,1818.4 L3178.6,2028.9 Q3190,2032 3199.3,2025.5 L3129.6,1810.7" fill="none" stroke="#000" stroke-width="2.2" stroke-linejoin="round" stroke-linecap="round" />
<path d="M2912.4,1810.7 L2990.6,1812.5" fill="none" stroke="#000" stroke-width="2.2" stroke-linejoin="round" stroke-linecap="round" />
<path d="M3013.5,1812.5 L3097.5,1817.4" fill="none" stroke="#000" stroke-width="2.2" stroke-linejoin="round" stroke-linecap="round" />
<ellipse cx="3076.8" cy="1746.0" rx="28.1" ry="31.6" fill="#fff" stroke="#000" stroke-width="3.8" />
<text x="3062.5" y="1761" font-family="'Liberation Sans', sans-serif" font-size="44" font-weight="bold" text-anchor="start" >D</text>
<path d="M2942.2,279.3 C2942.3,277.1 2942.8,276.0 2943.5,275.0 C2944.3,274.0 2944.6,273.4 2946.6,273.4 C2948.6,273.4 2952.5,274.7 2955.5,275.2 C2958.4,275.8 2961.7,276.6 2964.4,276.7 C2967.1,276.8 2969.5,276.3 2971.8,276.0 C2974.0,275.7 2975.8,274.9 2977.7,274.9 C2979.5,274.9 2981.4,275.2 2982.8,276.0 C2984.3,276.7 2984.7,276.7 2986.5,279.3 C2988.4,282.0 2991.5,287.4 2993.9,291.9 C2996.4,296.3 2998.5,300.4 3001.3,305.9 C3004.2,311.5 3008.5,320.5 3010.9,325.1 C3013.4,329.8 3014.5,331.9 3016.1,334.0 C3017.7,336.2 3019.0,337.0 3020.6,338.1 C3022.2,339.2 3022.8,340.0 3025.7,340.7 C3028.7,341.4 3035.0,341.5 3038.3,342.2 C3041.6,342.8 3043.5,343.5 3045.7,344.7 C3047.9,346.0 3050.2,347.8 3051.6,349.5 C3053.0,351.3 3054.1,353.4 3054.2,355.5 C3054.3,357.6 3053.5,359.9 3052.3,362.1 C3051.2,364.3 3049.5,366.9 3047.2,368.8 C3044.8,370.6 3042.5,372.2 3038.3,373.2 C3034.1,374.3 3029.4,375.4 3022.0,375.1 C3014.6,374.7 3003.5,372.8 2993.9,371.0 C2984.3,369.2 2970.5,366.3 2964.4,364.3 C2958.2,362.4 2959.1,361.3 2957.0,359.2 C2954.9,357.1 2953.3,355.0 2951.8,351.8 C2950.3,348.6 2949.0,344.4 2948.1,339.9 C2947.2,335.5 2947.1,330.7 2946.6,325.1 C2946.1,319.6 2945.8,312.8 2945.1,306.7 C2944.5,300.5 2943.4,292.7 2942.9,288.2 C2942.4,283.6 2942.1,281.5 2942.2,279.3 Z" fill="none" stroke="#000" stroke-width="1.9" stroke-linejoin="round" stroke-linecap="round" />
<path d="M2946.6,274.1 C2947.1,276.5 2948.5,282.1 2949.6,288.2 C2950.7,294.2 2952.6,304.2 2953.3,310.4 C2953.9,316.5 2953.8,319.2 2953.6,325.1 C2953.5,331.1 2952.2,341.4 2952.5,345.9 C2952.8,350.3 2954.4,350.3 2955.5,351.8 C2956.6,353.2 2958.6,354.2 2959.2,354.7" fill="none" stroke="#000" stroke-width="1.9" stroke-linejoin="round" stroke-linecap="round" />
<path d="M2959.2,354.0 C2962.3,352.3 2970.9,348.7 2979.1,346.6 C2987.4,344.5 3000.7,342.2 3008.7,341.4 C3016.7,340.6 3022.3,341.3 3027.2,341.8 C3032.1,342.3 3035.0,343.0 3038.3,344.4 C3041.6,345.8 3045.4,348.6 3047.2,350.3 C3049.0,352.0 3049.0,352.8 3049.0,354.7 C3049.0,356.7 3048.3,360.0 3047.2,362.1 C3046.0,364.2 3045.3,365.7 3042.0,367.3 C3038.7,368.9 3034.0,371.5 3027.2,371.7 C3020.4,372.0 3008.7,370.6 3001.3,368.8 C2993.9,366.9 2987.8,362.4 2982.8,360.6 C2977.9,358.9 2975.5,359.0 2971.8,358.4 C2968.1,357.8 2962.8,357.7 2960.7,356.9 C2958.6,356.2 2956.1,355.7 2959.2,354.0 Z" fill="none" stroke="#000" stroke-width="1.9" stroke-linejoin="round" stroke-linecap="round" />
<path d="M2941.4,397.2 L2968.9,482.3 L2979.6,483.0 L2980.4,484.6 L2987.2,480.4" fill="none" stroke="#000" stroke-width="1.9" stroke-linejoin="round" stroke-linecap="round" />
<path d="M2946.0,398.7 L2970.4,470.9 L3012.4,493.4" fill="none" stroke="#000" stroke-width="1.9" stroke-linejoin="round" stroke-linecap="round" />
<path d="M2951.0,397.2 L2974.6,468.6 L3013.6,489.6" fill="none" stroke="#000" stroke-width="1.9" stroke-linejoin="round" stroke-linecap="round" />
<path d="M2941.4,397.2 L2946.0,395.6 L2951.0,397.2" fill="none" stroke="#000" stroke-width="1.9" stroke-linejoin="round" stroke-linecap="round" />
<path d="M3046.8,431.2 L3013.6,489.6" fill="none" stroke="#000" stroke-width="1.9" stroke-linejoin="round" stroke-linecap="round" />
<path d="M3054.5,433.1 L3015.5,507.2" fill="none" stroke="#000" stroke-width="1.9" stroke-linejoin="round" stroke-linecap="round" />
<path d="M3060.6,433.1 L3019.0,507.2" fill="none" stroke="#000" stroke-width="1.9" stroke-linejoin="round" stroke-linecap="round" />
<path d="M3046.8,431.2 L3052.0,428.9 L3060.0,431.9 L3054.5,433.8 L3046.8,431.2" fill="none" stroke="#000" stroke-width="1.9" stroke-linejoin="round" stroke-linecap="round" />
<path d="M3012.4,493.4 L3015.5,507.2" fill="none" stroke="#000" stroke-width="1.9" stroke-linejoin="round" stroke-linecap="round" />
<path d="M2991.8,480.4 L2991.8,491.5 L3002.5,496.5 L3014.0,507.2" fill="none" stroke="#000" stroke-width="1.9" stroke-linejoin="round" stroke-linecap="round" />
<line x1="2980.4" y1="472.3" x2="2983.4" y2="476.3" stroke="#000" stroke-width="3"/>
<line x1="2990.3" y1="478.4" x2="2993.3" y2="482.4" stroke="#000" stroke-width="3"/>
<line x1="3001.0" y1="484.6" x2="3004.0" y2="488.6" stroke="#000" stroke-width="3"/>
<path d="M2943.3,557.8 L2984.6,625.8 L2987.6,625.1" fill="none" stroke="#000" stroke-width="1.9" stroke-linejoin="round" stroke-linecap="round" />
<path d="M2949.8,558.6 L2987.6,625.1" fill="none" stroke="#000" stroke-width="1.9" stroke-linejoin="round" stroke-linecap="round" />
<path d="M2955.5,555.9 L2988.8,607.5 L3021.6,588.4" fill="none" stroke="#000" stroke-width="1.9" stroke-linejoin="round" stroke-linecap="round" />
<path d="M2989.5,612.1 L3025.8,591.1" fill="none" stroke="#000" stroke-width="1.9" stroke-linejoin="round" stroke-linecap="round" />
<path d="M2943.3,557.8 L2945.2,554.4 L2950.9,552.9 L2955.5,555.9" fill="none" stroke="#000" stroke-width="1.9" stroke-linejoin="round" stroke-linecap="round" />
<path d="M3040.3,524.6 L3021.6,588.4" fill="none" stroke="#000" stroke-width="1.9" stroke-linejoin="round" stroke-linecap="round" />
<path d="M3045.3,525.8 L3025.8,591.1" fill="none" stroke="#000" stroke-width="1.9" stroke-linejoin="round" stroke-linecap="round" />
<path d="M3049.1,524.6 L3027.3,600.6 L3018.5,601.5 L2998.3,614.4 L2988.8,625.8" fill="none" stroke="#000" stroke-width="1.9" stroke-linejoin="round" stroke-linecap="round" />
<path d="M3040.3,524.6 L3044.5,523.3 L3049.1,524.6" fill="none" stroke="#000" stroke-width="1.9" stroke-linejoin="round" stroke-linecap="round" />
<path d="M3006.3,597.2 L3006.3,609.8" fill="none" stroke="#000" stroke-width="1.9" stroke-linejoin="round" stroke-linecap="round" />
<path d="M3011.3,600.2 L3011.3,606.2" fill="none" stroke="#000" stroke-width="1.9" stroke-linejoin="round" stroke-linecap="round" />
<path d="M2932.5,700.0 C2933.3,695.8 2939.6,691.2 2945.0,688.0 C2950.4,684.8 2955.8,682.8 2965.0,681.0 C2974.2,679.2 2989.2,677.4 3000.0,677.0 C3010.8,676.6 3020.8,677.2 3030.0,678.5 C3039.2,679.8 3048.7,681.9 3055.0,685.0 C3061.3,688.1 3066.3,692.5 3068.0,697.0 C3069.7,701.5 3068.3,707.5 3065.0,712.0 C3061.7,716.5 3055.5,721.0 3048.0,724.0 C3040.5,727.0 3029.7,729.1 3020.0,730.0 C3010.3,730.9 3000.0,730.7 2990.0,729.5 C2980.0,728.3 2968.3,725.8 2960.0,723.0 C2951.7,720.2 2944.6,716.8 2940.0,713.0 C2935.4,709.2 2931.7,704.2 2932.5,700.0 Z" fill="none" stroke="#444" stroke-width="2.8"/>
<path d="M2968.6,800.3 L3033.6,800.3 Q3036.1,812.9 3033.6,825.5 L2968.6,825.5" fill="#fff" stroke="#000" stroke-width="1.7"/>
<path d="M2984.5,801.1 Q2987.7,812.9 2984.5,824.7" fill="none" stroke="#000" stroke-width="1.3"/>
<path d="M2988.7,801.1 Q2991.9,812.9 2988.7,824.7" fill="none" stroke="#000" stroke-width="1.3"/>
<path d="M2992.9,801.1 Q2996.1,812.9 2992.9,824.7" fill="none" stroke="#000" stroke-width="1.3"/>
<path d="M2997.1,801.1 Q3000.3,812.9 2997.1,824.7" fill="none" stroke="#000" stroke-width="1.3"/>
<path d="M3001.3,801.1 Q3004.5,812.9 3001.3,824.7" fill="none" stroke="#000" stroke-width="1.3"/>
<path d="M3005.5,801.1 Q3008.7,812.9 3005.5,824.7" fill="none" stroke="#000" stroke-width="1.3"/>
<path d="M3009.6,801.1 Q3012.8,812.9 3009.6,824.7" fill="none" stroke="#000" stroke-width="1.3"/>
<path d="M3013.8,801.1 Q3017.0,812.9 3013.8,824.7" fill="none" stroke="#000" stroke-width="1.3"/>
<path d="M3018.0,801.1 Q3021.2,812.9 3018.0,824.7" fill="none" stroke="#000" stroke-width="1.3"/>
<path d="M3022.2,801.1 Q3025.4,812.9 3022.2,824.7" fill="none" stroke="#000" stroke-width="1.3"/>
<path d="M3026.4,801.1 Q3029.6,812.9 3026.4,824.7" fill="none" stroke="#000" stroke-width="1.3"/>
<path d="M3030.6,801.1 Q3033.8,812.9 3030.6,824.7" fill="none" stroke="#000" stroke-width="1.3"/>
<ellipse cx="2968.6" cy="814.8" rx="13.9" ry="28.0" fill="#fff" stroke="#000" stroke-width="1.7" />
<ellipse cx="2965.9" cy="814.8" rx="11.0" ry="26.5" fill="#fff" stroke="#000" stroke-width="1.7" />
<path d="M2959.7,810.3 L2965.2,804.0 L2970.8,810.3 L2970.8,822.9 L2965.2,829.2 L2959.7,822.9 Z" fill="none" stroke="#000" stroke-width="1.7" stroke-linejoin="round" stroke-linecap="round" />
<path d="M2969,926.5999999999999 L3058.3,926.5999999999999 Q3060.8,938.3 3058.3,950.0 L2969,950.0" fill="#fff" stroke="#000" stroke-width="1.7"/>
<path d="M2989.4,927.4 Q2992.6,938.3 2989.4,949.2" fill="none" stroke="#000" stroke-width="1.3"/>
<path d="M2994.1,927.4 Q2997.3,938.3 2994.1,949.2" fill="none" stroke="#000" stroke-width="1.3"/>
<path d="M2998.8,927.4 Q3002.0,938.3 2998.8,949.2" fill="none" stroke="#000" stroke-width="1.3"/>
<path d="M3003.5,927.4 Q3006.7,938.3 3003.5,949.2" fill="none" stroke="#000" stroke-width="1.3"/>
<path d="M3008.2,927.4 Q3011.4,938.3 3008.2,949.2" fill="none" stroke="#000" stroke-width="1.3"/>
<path d="M3012.9,927.4 Q3016.1,938.3 3012.9,949.2" fill="none" stroke="#000" stroke-width="1.3"/>
<path d="M3017.6,927.4 Q3020.8,938.3 3017.6,949.2" fill="none" stroke="#000" stroke-width="1.3"/>
<path d="M3022.4,927.4 Q3025.6,938.3 3022.4,949.2" fill="none" stroke="#000" stroke-width="1.3"/>
<path d="M3027.1,927.4 Q3030.3,938.3 3027.1,949.2" fill="none" stroke="#000" stroke-width="1.3"/>
<path d="M3031.8,927.4 Q3035.0,938.3 3031.8,949.2" fill="none" stroke="#000" stroke-width="1.3"/>
<path d="M3036.5,927.4 Q3039.7,938.3 3036.5,949.2" fill="none" stroke="#000" stroke-width="1.3"/>
<path d="M3041.2,927.4 Q3044.4,938.3 3041.2,949.2" fill="none" stroke="#000" stroke-width="1.3"/>
<path d="M3045.9,927.4 Q3049.1,938.3 3045.9,949.2" fill="none" stroke="#000" stroke-width="1.3"/>
<path d="M3050.6,927.4 Q3053.8,938.3 3050.6,949.2" fill="none" stroke="#000" stroke-width="1.3"/>
<path d="M3055.3,927.4 Q3058.5,938.3 3055.3,949.2" fill="none" stroke="#000" stroke-width="1.3"/>
<ellipse cx="2969.0" cy="940.1" rx="18.5" ry="25.3" fill="#fff" stroke="#000" stroke-width="1.7" />
<ellipse cx="2965.6" cy="940.1" rx="15.1" ry="23.4" fill="#fff" stroke="#000" stroke-width="1.7" />
<path d="M2956.6,935.4 L2963.4,929.6 L2970.2,935.4 L2970.2,947.1 L2963.4,953.0 L2956.6,947.1 Z" fill="none" stroke="#000" stroke-width="1.7" stroke-linejoin="round" stroke-linecap="round" />
<ellipse cx="3008.5" cy="1064" rx="40.5" ry="23" fill="#000"/>
<ellipse cx="3008.5" cy="1058.5" rx="40.5" ry="22.5" fill="#fff" stroke="#000" stroke-width="2" />
<ellipse cx="3009.0" cy="1060.0" rx="17.0" ry="8.0" fill="#fff" stroke="#000" stroke-width="2" />
<text x="1552" y="2288.5" font-family="'Liberation Sans', sans-serif" font-size="33" font-weight="normal" text-anchor="start" textLength="273" lengthAdjust="spacingAndGlyphs" >HALMAR Sp. z o.o.</text>
<text x="1073" y="2332.5" font-family="'Liberation Sans', sans-serif" font-size="33" font-weight="normal" text-anchor="start" textLength="1233" lengthAdjust="spacingAndGlyphs" >ul. Centralnego Okręgu Przemysłowego 2, 37-450 Stalowa Wola, POLSKA / POLAND</text>
<text x="1136" y="2376" font-family="'Liberation Sans', sans-serif" font-size="33" font-weight="normal" text-anchor="start" textLength="1104" lengthAdjust="spacingAndGlyphs" >tel. +48 15 843 28 10, fax: +48 15 842 19 57, e-mail: office@halmar.com.pl</text>
</svg></body></html>
